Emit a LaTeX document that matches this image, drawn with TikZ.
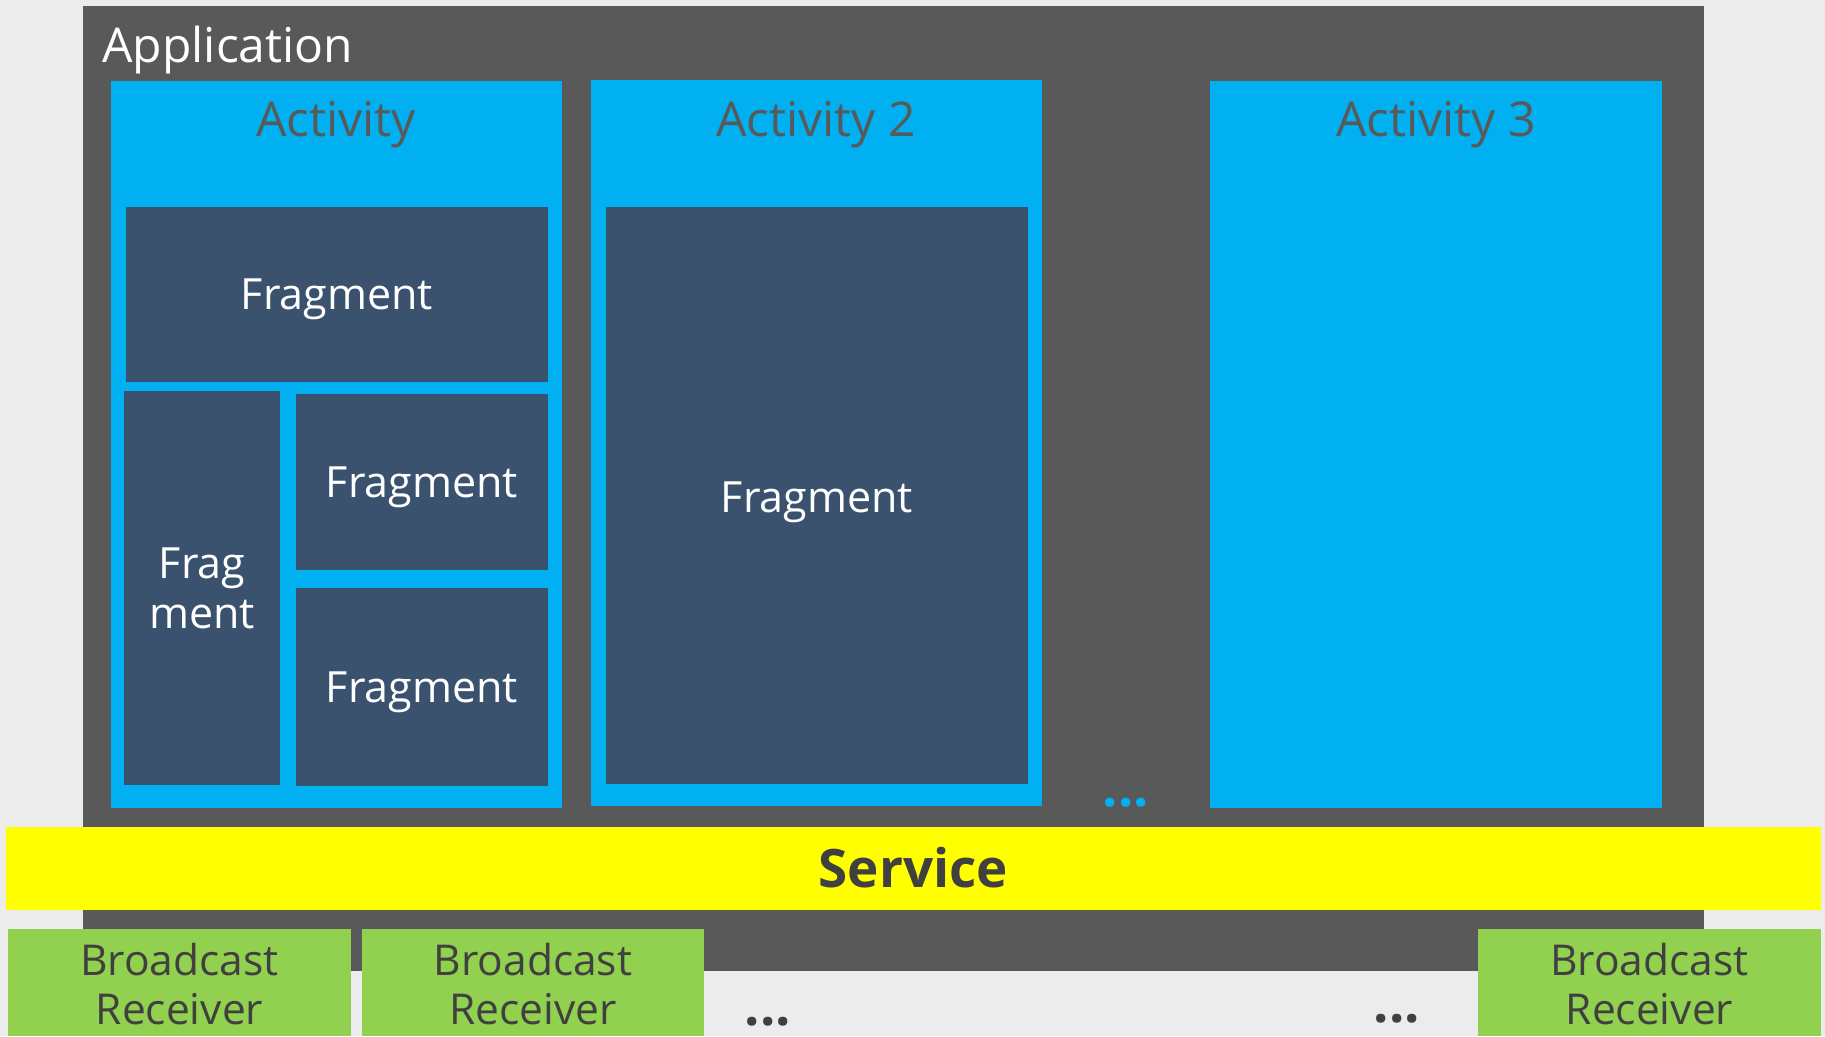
\documentclass[tikz,border=0pt]{standalone}
\usepackage{fontspec}
\setmainfont{Open Sans}
\usepackage{tikz}
\usetikzlibrary{calc}
\definecolor{paper}{RGB}{236, 236, 236}
\definecolor{appgray}{RGB}{89, 89, 89}
\definecolor{actblue}{RGB}{0, 176, 240}
\definecolor{fragblue}{RGB}{59, 82, 111}
\definecolor{svcyellow}{RGB}{255, 255, 0}
\definecolor{brgreen}{RGB}{146, 208, 80}
\definecolor{textdark}{RGB}{64, 64, 64}

\begin{document}
\begin{tikzpicture}[x=1pt, y=-1pt,
  box/.style={inner sep=0pt, outer sep=0pt, anchor=north west},
  actbox/.style={box, fill=actblue, minimum width=451pt, minimum height=727pt},
  fragbox/.style={box, fill=fragblue},
  brbox/.style={box, fill=brgreen, minimum width=343pt, minimum height=107pt},
  actlabel/.style={anchor=base, text=appgray, font=\fontsize{48}{56}\selectfont},
  fraglabel/.style={text=white, align=center, font=\fontsize{43}{50}\selectfont},
  brlabel/.style={text=textdark, align=center, font=\fontsize{42.5}{49}\selectfont},
  dots/.style={anchor=base, font=\bfseries\fontsize{54}{60}\selectfont}]

\useasboundingbox (0, 0) rectangle (1825, 1036);
\fill[paper] (0, 0) rectangle (1825, 1036);

% application
\node[box, fill=appgray, minimum width=1621pt, minimum height=965pt] (app) at (83, 6) {};
\node[anchor=base west, text=white, font=\fontsize{48}{56}\selectfont] (applabel) at (99, 62) {Application};

% activities
\node[actbox] (act1) at (111, 81) {};
\node[actbox, minimum height=726pt] (act2) at (591, 80) {};
\node[actbox, minimum width=452pt] (act3) at (1210, 81) {};
\node[actlabel] (act1label) at (336, 136) {Activity};
\node[actlabel] (act2label) at (816, 136) {Activity 2};
\node[actlabel] (act3label) at (1436, 136) {Activity 3};

% fragments
\node[fragbox, minimum width=422pt, minimum height=175pt] (frag1) at (126, 207) {};
\node[fragbox, minimum width=156pt, minimum height=394pt] (frag2) at (124, 391) {};
\node[fragbox, minimum width=252pt, minimum height=176pt] (frag3) at (296, 394) {};
\node[fragbox, minimum width=252pt, minimum height=198pt] (frag4) at (296, 588) {};
\node[fragbox, minimum width=422pt, minimum height=577pt] (frag5) at (606, 207) {};
\node[fraglabel] (frag1label) at ($(frag1.center)+(0, 5)$) {Fragment};
\node[fraglabel] (frag2label) at (frag2.center) {Frag\\ment};
\node[fraglabel] (frag3label) at ($(frag3.center)+(0, 5)$) {Fragment};
\node[fraglabel] (frag4label) at ($(frag4.center)+(0, 5)$) {Fragment};
\node[fraglabel] (frag5label) at ($(frag5.center)+(0, 7)$) {Fragment};
\node[dots, text=actblue] (actdots) at (1126, 806) {...};

% service
\node[box, fill=svcyellow, minimum width=1815pt, minimum height=83pt] (service) at (6, 827) {};
\node[text=textdark, font=\bfseries\fontsize{53}{60}\selectfont] (servicelabel) at ($(service.center)+(0, -1)$) {Service};

% broadcast receivers
\node[brbox] (br1) at (8, 929) {};
\node[brbox, minimum width=342pt] (br2) at (362, 929) {};
\node[brbox] (br3) at (1478, 929) {};
\foreach \b in {br1, br2, br3} {
  \node[brlabel] (\b label) at ($(\b.north)+(0, 55)$) {Broadcast\\Receiver};
}
\node[dots, text=textdark] (brdots1) at (768, 1025) {...};
\node[dots, text=textdark] (brdots2) at (1397, 1022) {...};
\end{tikzpicture}
\end{document}
